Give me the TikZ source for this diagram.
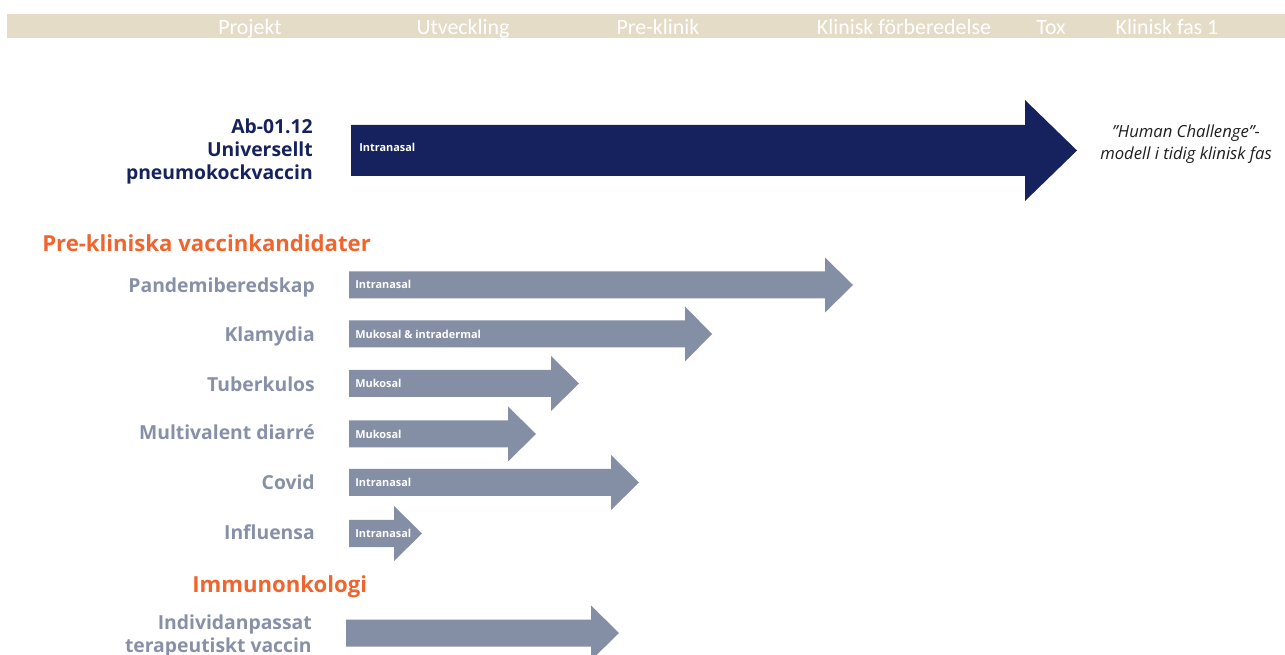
\documentclass[tikz,border=0pt]{standalone}
\usepackage{fontspec}
\setmainfont{Open Sans}
\newfontfamily\barfont{Carlito}
\definecolor{barcol}{HTML}{E4DCC6}
\definecolor{navy}{HTML}{15225D}
\definecolor{agrey}{HTML}{848EA5}
\definecolor{tgrey}{HTML}{8890A7}
\definecolor{orng}{HTML}{F0652D}
\definecolor{itxt}{HTML}{1E1E1E}
\tikzset{
  phase/.style={anchor=base,text=white,font=\barfont\fontsize{16.4}{18}\selectfont,inner sep=0pt},
  cand/.style={anchor=east,text=tgrey,font=\bfseries\fontsize{14.5}{17}\selectfont,align=right,inner sep=0pt},
  head/.style={anchor=west,text=orng,font=\bfseries\fontsize{16.6}{19}\selectfont,inner sep=0pt},
  route/.style={anchor=west,text=white,font=\bfseries\fontsize{8.2}{10}\selectfont,inner sep=0pt},
  greyarrow/.style={fill=agrey},
}
\newcommand{\progarrow}[5]{%
  \fill[#5] (#1,#4-13.5) -- (#2,#4-13.5) -- (#2,#4-27.5) -- (#3,#4) -- (#2,#4+27.5) -- (#2,#4+13.5) -- (#1,#4+13.5) -- cycle;}
\begin{document}
\begin{tikzpicture}[x=0.75pt,y=-0.75pt]
\useasboundingbox (0,0) rectangle (1285,655);
\clip (0,0) rectangle (1285,655);
% phase bar
\fill[barcol] (7,14) rectangle (1285,38);
\node[phase] (p1) at (250,34.5) {Projekt};
\node[phase] (p2) at (463,34.5) {Utveckling};
\node[phase] (p3) at (658,34.5) {Pre-klinik};
\node[phase] (p4) at (904,34.5) {Klinisk förberedelse};
\node[phase] (p5) at (1051,34.5) {Tox};
\node[phase] (p6) at (1167,34.5) {Klinisk fas 1};
% main candidate
\fill[navy] (351,125) -- (1025,125) -- (1025,100) -- (1077,150.5) -- (1025,201) -- (1025,176) -- (351,176) -- cycle;
\node[cand,text=navy,font=\bfseries\fontsize{14.5}{17.25}\selectfont] (ab) at (313,151) {Ab-01.12\\Universellt\\pneumokockvaccin};
\node[route] (abr) at (359,147) {Intranasal};
\node[text=itxt,font=\itshape\fontsize{12.5}{16.5}\selectfont,align=center,inner sep=0pt] (hc) at (1186,144) {”Human Challenge”-\\modell i tidig klinisk fas};
% pre-clinical
\node[head] (h1) at (42,243.5) {Pre-kliniska vaccinkandidater};
\progarrow{349}{825}{853}{285}{greyarrow}
\node[cand] (c1) at (315,287) {Pandemiberedskap};
\node[route] (r1) at (355,284.5) {Intranasal};
\progarrow{349}{685}{712}{334}{greyarrow}
\node[cand] (c2) at (315,336) {Klamydia};
\node[route] (r2) at (355,334) {Mukosal \& intradermal};
\progarrow{349}{551}{579}{383.5}{greyarrow}
\node[cand] (c3) at (315,384) {Tuberkulos};
\node[route] (r3) at (355,383.5) {Mukosal};
\progarrow{349}{508}{536}{434}{greyarrow}
\node[cand] (c4) at (315,432.5) {Multivalent diarré};
\node[route] (r4) at (355,434.5) {Mukosal};
\progarrow{349}{611}{639}{482.5}{greyarrow}
\node[cand] (c5) at (315,482) {Covid};
\node[route] (r5) at (355,482.5) {Intranasal};
\progarrow{349}{394}{422}{533.5}{greyarrow}
\node[cand] (c6) at (315,532.5) {Influensa};
\node[route] (r6) at (355,533.5) {Intranasal};
% immuno-oncology
\node[head] (h2) at (192,586.5) {Immunonkologi};
\progarrow{346}{591}{619}{633}{greyarrow}
\node[cand] (c7) at (312,636) {Individanpassat\\terapeutiskt vaccin};
\end{tikzpicture}
\end{document}
